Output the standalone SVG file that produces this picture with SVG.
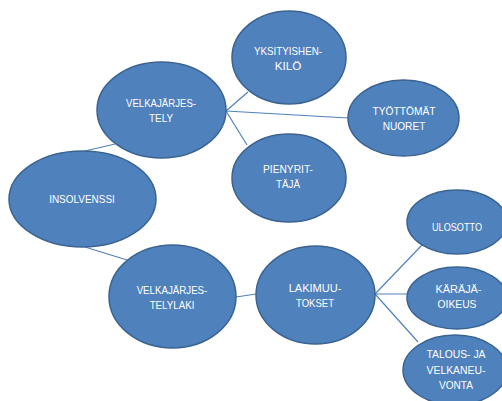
<svg xmlns="http://www.w3.org/2000/svg" width="502" height="401" viewBox="0 0 502 401">
<style>
.n{fill:#4f81bd;stroke:#3a6390;stroke-width:1.5}
.t{font-family:"Liberation Sans",Arial,sans-serif;font-size:11px;fill:#ffffff;text-anchor:middle}
.c{stroke:#4f81bd;stroke-width:1.2;fill:none}
</style>
<rect width="502" height="401" fill="#ffffff"/>
<g id="connectors">
<line class="c" x1="85" y1="151" x2="115" y2="144"/>
<line class="c" x1="85" y1="247" x2="127" y2="260"/>
<line class="c" x1="226" y1="111" x2="248" y2="92"/>
<line class="c" x1="226" y1="111" x2="348" y2="118"/>
<line class="c" x1="226" y1="111" x2="247" y2="145"/>
<line class="c" x1="236" y1="297" x2="256" y2="294"/>
<line class="c" x1="375" y1="294" x2="423" y2="244"/>
<line class="c" x1="375" y1="294" x2="408" y2="294"/>
<line class="c" x1="375" y1="294" x2="418" y2="342"/>
</g>
<g id="insolvenssi">
<ellipse class="n" cx="82.5" cy="199" rx="73.5" ry="48"/>
<text class="t" x="82" y="203" textLength="65.7" lengthAdjust="spacingAndGlyphs">INSOLVENSSI</text>
</g>
<g id="velkajarjestely">
<ellipse class="n" cx="161.5" cy="110" rx="64.5" ry="48"/>
<text class="t" x="161" y="107" textLength="70" lengthAdjust="spacingAndGlyphs">VELKAJÄRJES-</text>
<text class="t" x="161" y="121.5" textLength="24" lengthAdjust="spacingAndGlyphs">TELY</text>
</g>
<g id="yksityishenkilo">
<ellipse class="n" cx="289" cy="57.5" rx="57" ry="46.5"/>
<text class="t" x="288" y="55" textLength="68" lengthAdjust="spacingAndGlyphs">YKSITYISHEN-</text>
<text class="t" x="288" y="69.5" textLength="26.7" lengthAdjust="spacingAndGlyphs">KILÖ</text>
</g>
<g id="tyottomat">
<ellipse class="n" cx="403.5" cy="118" rx="55.5" ry="38"/>
<text class="t" x="404" y="115" textLength="63" lengthAdjust="spacingAndGlyphs">TYÖTTÖMÄT</text>
<text class="t" x="404" y="130" textLength="42.7" lengthAdjust="spacingAndGlyphs">NUORET</text>
</g>
<g id="pienyrittaja">
<ellipse class="n" cx="289" cy="178" rx="57" ry="44"/>
<text class="t" x="288" y="173" textLength="50" lengthAdjust="spacingAndGlyphs">PIENYRIT-</text>
<text class="t" x="288" y="188" textLength="24" lengthAdjust="spacingAndGlyphs">TÄJÄ</text>
</g>
<g id="velkajarjestelylaki">
<ellipse class="n" cx="172.5" cy="296.5" rx="63.5" ry="51.5"/>
<text class="t" x="172" y="294" textLength="70.7" lengthAdjust="spacingAndGlyphs">VELKAJÄRJES-</text>
<text class="t" x="172" y="309" textLength="44.7" lengthAdjust="spacingAndGlyphs">TELYLAKI</text>
</g>
<g id="lakimuutokset">
<ellipse class="n" cx="315.5" cy="295" rx="59.5" ry="49"/>
<text class="t" x="315" y="292" textLength="52.7" lengthAdjust="spacingAndGlyphs">LAKIMUU-</text>
<text class="t" x="315" y="307" textLength="38" lengthAdjust="spacingAndGlyphs">TOKSET</text>
</g>
<g id="ulosotto">
<ellipse class="n" cx="457" cy="222" rx="50" ry="32"/>
<text class="t" x="457" y="231" textLength="50" lengthAdjust="spacingAndGlyphs">ULOSOTTO</text>
</g>
<g id="karajaoikeus">
<ellipse class="n" cx="457" cy="298" rx="50" ry="31"/>
<text class="t" x="458.5" y="293" textLength="46" lengthAdjust="spacingAndGlyphs">KÄRÄJÄ-</text>
<text class="t" x="457" y="307.5" textLength="39" lengthAdjust="spacingAndGlyphs">OIKEUS</text>
</g>
<g id="talousjavelkaneuvonta">
<ellipse class="n" cx="455" cy="370" rx="52" ry="35"/>
<text class="t" x="456" y="358" textLength="59" lengthAdjust="spacingAndGlyphs">TALOUS- JA</text>
<text class="t" x="456" y="374" textLength="59" lengthAdjust="spacingAndGlyphs">VELKANEU-</text>
<text class="t" x="456" y="389" textLength="34" lengthAdjust="spacingAndGlyphs">VONTA</text>
</g>
</svg>
